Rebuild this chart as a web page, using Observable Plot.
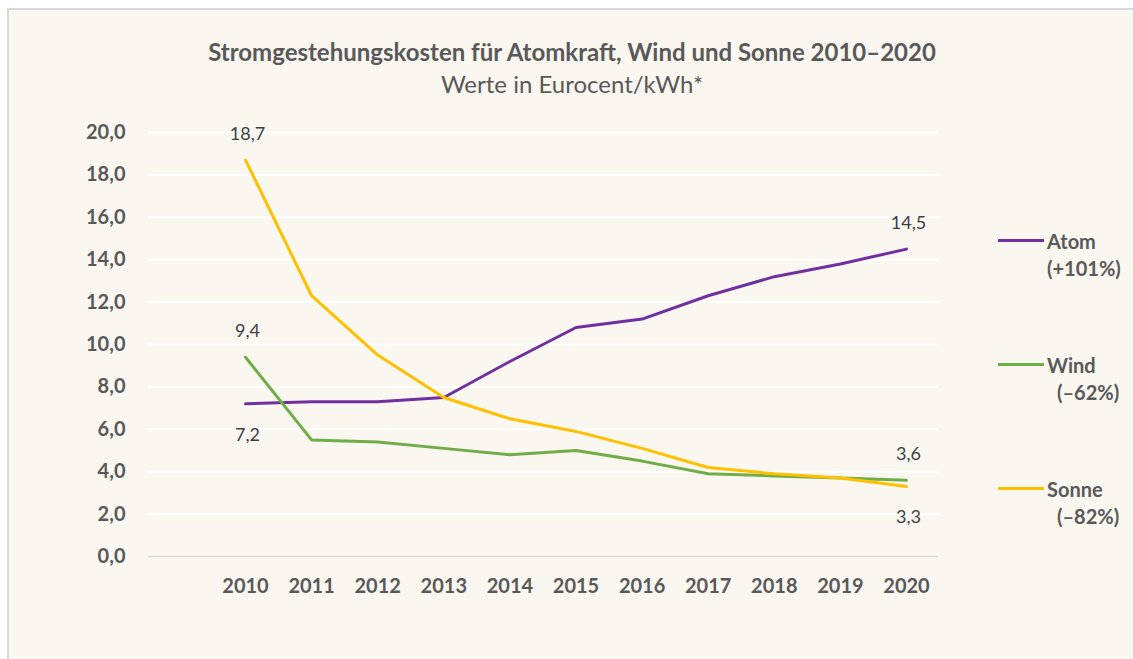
<!DOCTYPE html>
<html>
<head>
<meta charset="utf-8">
<script src="https://cdn.jsdelivr.net/npm/d3@7"></script>
<script src="https://cdn.jsdelivr.net/npm/@observablehq/plot@0.6"></script>
<style>
  html, body { margin: 0; padding: 0; background: #ffffff; }
  body { width: 1133px; height: 659px; position: relative; overflow: hidden; font-family: Lato, "Open Sans", sans-serif; }
  #frame { position: absolute; left: 7px; top: 8px; width: 1130px; height: 660px; background: #faf6f0; border-left: 2px solid #dadada; border-top: 2px solid #dadada; }
  #chart { position: absolute; left: 0; top: 0; width: 1133px; }
  #title { height: 100px; box-sizing: border-box; padding-top: 36px; padding-left: 11px; text-align: center; color: #595959; }
  #title .t { font-size: 24px; font-weight: bold; line-height: 32px; }
  #title .s { font-size: 24px; line-height: 32px; }
  .leg { position: absolute; color: #595959; font-weight: bold; font-size: 20px; line-height: 27px; }
  .leg .sw { position: absolute; left: 0; width: 46px; height: 3px; }
  .leg .lab { position: absolute; left: 49px; top: 0; white-space: pre; }
</style>
</head>
<body>
<div id="frame"></div>
<div id="chart">
  <div id="title">
    <div class="t">Stromgestehungskosten für Atomkraft, Wind und Sonne 2010–2020</div>
    <div class="s">Werte in Eurocent/kWh*</div>
  </div>
  <div id="plot"></div>
</div>
<div id="legend"></div>
<script>
const years = [2010, 2011, 2012, 2013, 2014, 2015, 2016, 2017, 2018, 2019, 2020];
const atom  = [7.2, 7.3, 7.3, 7.5, 9.2, 10.8, 11.2, 12.3, 13.2, 13.8, 14.5];
const wind  = [9.4, 5.5, 5.4, 5.1, 4.8, 5.0, 4.5, 3.9, 3.8, 3.7, 3.6];
const sonne = [18.7, 12.3, 9.5, 7.5, 6.5, 5.9, 5.1, 4.2, 3.9, 3.7, 3.3];
const seriesNames = ["Atom", "Wind", "Sonne"];
const seriesColors = ["#7030a0", "#70ad47", "#ffc000"];
const legendLabels = ["(+101%)", "(–62%)", "(–82%)"];
const yTicks = [0, 2, 4, 6, 8, 10, 12, 14, 16, 18, 20];

const seriesValues = [atom, wind, sonne];
const data = [];
seriesNames.forEach((s, i) => years.forEach((y, j) => data.push({series: s, year: y, value: seriesValues[i][j]})));

const fmt = d => d.toFixed(1).replace(".", ",");

// endpoint labels: first and last year of each series
const labels = [];
seriesNames.forEach((s, i) => {
  const v = seriesValues[i];
  labels.push({series: s, year: years[0], value: v[0]});
  labels.push({series: s, year: years[years.length - 1], value: v[v.length - 1]});
});
const below = d => (d.series === "Atom" && d.year === 2010) || (d.series === "Sonne" && d.year === 2020);

const chart = Plot.plot({
  width: 1133,
  height: 559,
  marginLeft: 148,
  marginRight: 195,
  insetLeft: 97,
  insetRight: 32,
  marginTop: 32,
  marginBottom: 103,
  style: {background: "transparent", fontFamily: "Lato, 'Open Sans', sans-serif", color: "#595959", overflow: "visible"},
  x: {domain: [2010, 2020], label: null},
  y: {domain: [0, 20], label: null},
  color: {domain: seriesNames, range: seriesColors},
  marks: [
    Plot.ruleY(yTicks.filter(d => d > 0), {stroke: "#ffffff", strokeWidth: 2, strokeOpacity: 1}),
    Plot.ruleY([0], {stroke: "#d9d9d9", strokeWidth: 1.5, strokeOpacity: 1}),
    Plot.axisY({ticks: yTicks, tickSize: 0, tickPadding: 23, tickFormat: fmt, fontWeight: "bold", fontSize: 20, fill: "#595959", label: null}),
    Plot.axisX({ticks: years, tickSize: 0, tickPadding: 22, tickFormat: d => String(d), fontWeight: "bold", fontSize: 20, fill: "#595959", label: null}),
    Plot.line(data, {x: "year", y: "value", z: "series", stroke: "series", strokeWidth: 3, strokeLinejoin: "round"}),
    Plot.text(labels.filter(d => !below(d)), {x: "year", y: "value", text: d => fmt(d.value), dy: -26, dx: 2, fontSize: 18, fill: "#404040"}),
    Plot.text(labels.filter(below), {x: "year", y: "value", text: d => fmt(d.value), dy: 31, dx: 2, fontSize: 18, fill: "#404040"})
  ]
});
document.getElementById("plot").appendChild(chart);

// legend (HTML, right of plot)
const legTop = [228, 352, 476];
const legIndent = [0, 10, 10];
const legend = document.getElementById("legend");
seriesNames.forEach((s, i) => {
  const div = document.createElement("div");
  div.className = "leg";
  div.style.left = "998px";
  div.style.top = legTop[i] + "px";
  div.innerHTML = `<div class="sw" style="top:11px;background:${seriesColors[i]}"></div>` +
    `<div class="lab">${s}<br><span style="padding-left:${legIndent[i]}px">${legendLabels[i]}</span></div>`;
  legend.appendChild(div);
});
</script>
</body>
</html>
